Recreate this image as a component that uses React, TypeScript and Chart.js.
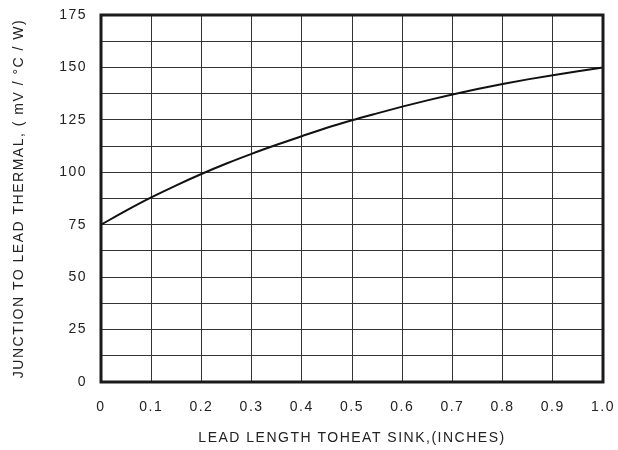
import React, { useEffect, useRef } from "react";
import { Chart, registerables } from "chart.js";

Chart.register(...registerables);

const xValues = [0, 0.05, 0.1, 0.15, 0.2, 0.25, 0.3, 0.35, 0.4, 0.45, 0.5, 0.55, 0.6, 0.65, 0.7, 0.75, 0.8, 0.85, 0.9, 0.95, 1.0];
const thermalValues = [75, 81.7, 88, 93.8, 99.2, 104.2, 108.8, 113.1, 117.2, 121.2, 124.8, 128.1, 131.3, 134.3, 137.1, 139.7, 142.1, 144.3, 146.3, 148.2, 150];
const xTitle = "LEAD LENGTH TOHEAT SINK,(INCHES)";
const yTitle = "JUNCTION TO LEAD THERMAL, ( mV / °C / W)";

const SPACING = "1.5px";

const framePlugin = {
  id: "frame",
  beforeInit(chart: any) {
    chart.ctx.letterSpacing = SPACING;
  },
  beforeLayout(chart: any) {
    chart.ctx.letterSpacing = SPACING;
  },
  beforeDraw(chart: any) {
    chart.ctx.letterSpacing = SPACING;
  },
  afterDraw(chart: any) {
    const { ctx, chartArea } = chart;
    ctx.save();
    ctx.strokeStyle = "#1a1a1a";
    ctx.lineWidth = 3;
    ctx.strokeRect(chartArea.left, chartArea.top, chartArea.right - chartArea.left, chartArea.bottom - chartArea.top);
    ctx.restore();
  },
};

export default function App() {
  const ref = useRef<HTMLCanvasElement>(null);
  useEffect(() => {
    const font = { family: "'Liberation Sans', Arial, sans-serif", size: 14 };
    const chart = new Chart(ref.current!, {
      type: "line",
      data: {
        datasets: [
          {
            data: xValues.map((x, i) => ({ x, y: thermalValues[i] })),
            borderColor: "#111",
            borderWidth: 2,
            pointRadius: 0,
            cubicInterpolationMode: "monotone",
            fill: false,
          },
        ],
      },
      options: {
        responsive: false,
        animation: false,
        layout: { padding: { top: 15, right: 15, left: 0, bottom: 0 } },
        plugins: { legend: { display: false }, tooltip: { enabled: false } },
        scales: {
          x: {
            type: "linear",
            min: 0,
            max: 1,
            afterFit: (s: any) => {
              s.height = 68;
              s.paddingLeft = 0;
              s.paddingRight = 0;
            },
            border: { display: false },
            grid: { color: "#333", lineWidth: 1, drawTicks: false },
            ticks: {
              stepSize: 0.1,
              padding: 17,
              color: "#222",
              font,
              maxRotation: 0,
              callback: (v: any) => (Math.abs(v) < 1e-9 ? "0" : Number(v).toFixed(1)),
            },
            title: { display: true, text: xTitle, color: "#222", font, padding: { top: 0, bottom: 3 } },
          },
          y: {
            type: "linear",
            min: 0,
            max: 175,
            afterFit: (s: any) => {
              s.width = 101;
              s.paddingTop = 0;
              s.paddingBottom = 0;
            },
            border: { display: false },
            grid: { color: "#333", lineWidth: 1, drawTicks: false },
            ticks: {
              stepSize: 12.5,
              padding: 14,
              color: "#222",
              font,
              autoSkip: false,
              callback: (v: any) => (Math.round(v) % 25 === 0 && Number.isInteger(v) ? String(v) : ""),
            },
            title: { display: true, text: yTitle, color: "#222", font, padding: { top: 11, bottom: 0 } },
          },
        },
      },
      plugins: [framePlugin],
    } as any);
    return () => chart.destroy();
  }, []);
  return (
    <div style={{ position: "fixed", left: 0, top: 0, width: 618, height: 450, background: "#fff" }}>
      <canvas ref={ref} width={618} height={450} />
    </div>
  );
}
